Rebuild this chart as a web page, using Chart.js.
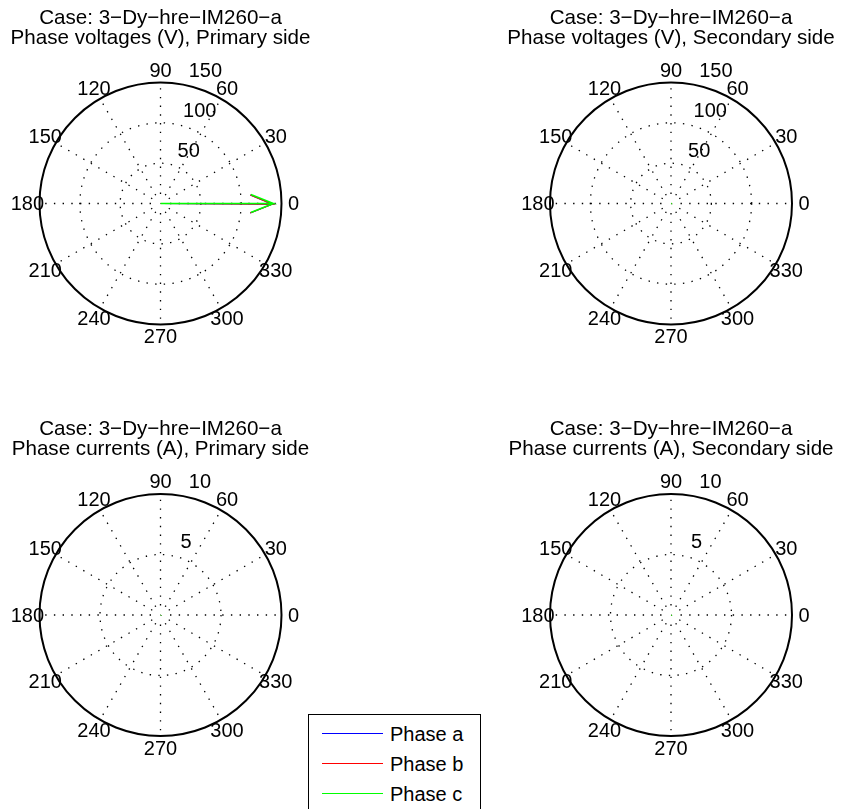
<!DOCTYPE html>
<html>
<head>
<meta charset="utf-8">
<script src="https://cdn.jsdelivr.net/npm/chart.js@4/dist/chart.umd.min.js"></script>
<style>
  html, body { margin: 0; padding: 0; background: #fff; }
  body { width: 841px; height: 809px; position: relative; overflow: hidden; font-family: "Liberation Sans", Arial, sans-serif; }
  canvas { position: absolute; }
  #legend { position: absolute; left: 308px; top: 714px; width: 173px; height: 110px; border: 1px solid #000; background: #fff; box-sizing: border-box; }
  .lg-line { position: absolute; left: 13px; width: 61px; height: 1px; }
  .lg-text { position: absolute; left: 81px; font-size: 20px; line-height: 20px; color: #000; white-space: nowrap; }
</style>
</head>
<body>
<canvas id="c0"></canvas>
<canvas id="c1"></canvas>
<canvas id="c2"></canvas>
<canvas id="c3"></canvas>
<div id="legend"></div>
<script>
// ---------- data ----------
const caseTitle = 'Case: 3\u2212Dy\u2212hre\u2212IM260\u2212a';
const panelTitles = [
  'Phase voltages (V), Primary side',
  'Phase voltages (V), Secondary side',
  'Phase currents (A), Primary side',
  'Phase currents (A), Secondary side'
];
const angleTicks = [0, 30, 60, 90, 120, 150, 180, 210, 240, 270, 300, 330];
const voltageRings = [50, 100, 150];
const currentRings = [5, 10];
const phaseNames = ['Phase a', 'Phase b', 'Phase c'];
const phaseColors = ['#0000ff', '#ff0000', '#00ff00'];
// phasor magnitudes and angles (degrees) per phase a, b, c
const vPrimaryMag = [139, 139, 140];
const vPrimaryAng = [-0.3, -0.3, 0];
const vSecondaryMag = [0.8, 0.8, 0.8];
const vSecondaryAng = [0, 0, 0];
const iPrimaryMag = [0.04, 0.04, 0.04];
const iPrimaryAng = [0, 0, 0];
const iSecondaryMag = [0.04, 0.04, 0.04];
const iSecondaryAng = [0, 0, 0];

// ---------- helpers ----------
const TICK_FONT = '20px "Liberation Sans", Arial, sans-serif';
const TITLE_FONT = '20.6px "Liberation Sans", Arial, sans-serif';

function arrowPoints(m, deg) {
  // compass-style arrow: shaft + head, in units of the phasor length
  const th = deg * Math.PI / 180, c = Math.cos(th), s = Math.sin(th);
  const shape = [[0, 0], [1, 0], [0.8, 0.08], [1, 0], [0.8, -0.08]];
  return shape.map(([u, v]) => ({ x: m * (u * c - v * s), y: m * (u * s + v * c) }));
}

const polarGrid = {
  id: 'polarGrid',
  beforeDatasetsDraw(chart, args, opts) {
    const ctx = chart.ctx, xs = chart.scales.x, ys = chart.scales.y;
    const cx = xs.getPixelForValue(0), cy = ys.getPixelForValue(0);
    const R = xs.getPixelForValue(opts.rmax) - cx;
    ctx.save();
    ctx.strokeStyle = '#000';
    ctx.lineWidth = 1.3;
    ctx.setLineDash([1.4, 7.3]);
    opts.rings.forEach(t => {
      if (t < opts.rmax) {
        const r = xs.getPixelForValue(t) - cx;
        ctx.beginPath(); ctx.arc(cx, cy, r, 0, 2 * Math.PI); ctx.stroke();
      }
    });
    angleTicks.forEach(a => {
      const th = a * Math.PI / 180;
      ctx.beginPath();
      ctx.moveTo(cx + 9.5 * Math.cos(th), cy - 9.5 * Math.sin(th));
      ctx.lineTo(cx + R * Math.cos(th), cy - R * Math.sin(th));
      ctx.stroke();
    });
    ctx.setLineDash([]);
    ctx.lineWidth = 2;
    ctx.beginPath(); ctx.arc(cx, cy, R, 0, 2 * Math.PI); ctx.stroke();
    ctx.restore();
  },
  afterDraw(chart, args, opts) {
    const ctx = chart.ctx, xs = chart.scales.x, ys = chart.scales.y;
    const cx = xs.getPixelForValue(0), cy = ys.getPixelForValue(0);
    const R = xs.getPixelForValue(opts.rmax) - cx;
    ctx.save();
    ctx.fillStyle = '#000';
    ctx.font = TICK_FONT;
    // angle labels
    ctx.textAlign = 'center';
    ctx.textBaseline = 'middle';
    angleTicks.forEach(a => {
      const th = a * Math.PI / 180;
      ctx.fillText(String(a), cx + 1.1 * R * Math.cos(th), cy - 1.1 * R * Math.sin(th) + 1);
    });
    // radial labels at 82 degrees
    const step = opts.rings[1] - opts.rings[0];
    const c82 = Math.cos(82 * Math.PI / 180), s82 = Math.sin(82 * Math.PI / 180);
    ctx.textAlign = 'left';
    ctx.textBaseline = 'bottom';
    opts.rings.forEach(t => {
      const rr = t + step / 20;
      ctx.fillText('  ' + t, xs.getPixelForValue(rr * c82), ys.getPixelForValue(rr * s82));
    });
    // title
    ctx.font = TITLE_FONT;
    ctx.textAlign = 'center';
    ctx.textBaseline = 'alphabetic';
    ctx.fillText(opts.title[0], cx, cy - 180);
    ctx.fillText(opts.title[1], cx, cy - 160);
    ctx.restore();
  }
};

function makePanel(id, box, center, R, rings, mags, angs, title) {
  const canvas = document.getElementById(id);
  canvas.width = box.w; canvas.height = box.h;
  canvas.style.left = box.x + 'px'; canvas.style.top = box.y + 'px';
  const rmax = rings[rings.length - 1];
  const datasets = phaseNames.map((name, i) => ({
    label: name,
    data: arrowPoints(mags[i], angs[i]),
    borderColor: phaseColors[i],
    backgroundColor: phaseColors[i],
    borderWidth: i === phaseNames.length - 1 ? 1.5 : 1.2,
    showLine: true,
    pointRadius: 0,
    fill: false,
    tension: 0,
    clip: false,
    order: phaseNames.length - 1 - i
  }));
  return new Chart(canvas, {
    type: 'scatter',
    data: { datasets },
    options: {
      responsive: false,
      animation: false,
      events: [],
      devicePixelRatio: 1,
      layout: { padding: {
        left: center.x - R - box.x,
        right: box.x + box.w - (center.x + R),
        top: center.y - R - box.y,
        bottom: box.y + box.h - (center.y + R)
      } },
      plugins: {
        legend: { display: false },
        tooltip: { enabled: false },
        polarGrid: { rmax, rings, title }
      },
      scales: {
        x: { type: 'linear', display: false, min: -rmax, max: rmax },
        y: { type: 'linear', display: false, min: -rmax, max: rmax }
      }
    },
    plugins: [polarGrid]
  });
}

const R = 121;
makePanel('c0', { x: 0, y: 0, w: 340, h: 370 }, { x: 160.5, y: 203.5 }, R, voltageRings, vPrimaryMag, vPrimaryAng, [caseTitle, panelTitles[0]]);
makePanel('c1', { x: 490, y: 0, w: 351, h: 370 }, { x: 671, y: 203.5 }, R, voltageRings, vSecondaryMag, vSecondaryAng, [caseTitle, panelTitles[1]]);
makePanel('c2', { x: 0, y: 400, w: 340, h: 380 }, { x: 160.5, y: 615 }, R, currentRings, iPrimaryMag, iPrimaryAng, [caseTitle, panelTitles[2]]);
makePanel('c3', { x: 490, y: 400, w: 351, h: 380 }, { x: 671, y: 615 }, R, currentRings, iSecondaryMag, iSecondaryAng, [caseTitle, panelTitles[3]]);

// legend
const legend = document.getElementById('legend');
phaseNames.forEach((name, i) => {
  const line = document.createElement('div');
  line.className = 'lg-line';
  line.style.top = (18 + 30 * i) + 'px';
  line.style.background = phaseColors[i];
  legend.appendChild(line);
  const txt = document.createElement('div');
  txt.className = 'lg-text';
  txt.style.top = (9 + 30 * i) + 'px';
  txt.textContent = name;
  legend.appendChild(txt);
});
</script>
</body>
</html>
